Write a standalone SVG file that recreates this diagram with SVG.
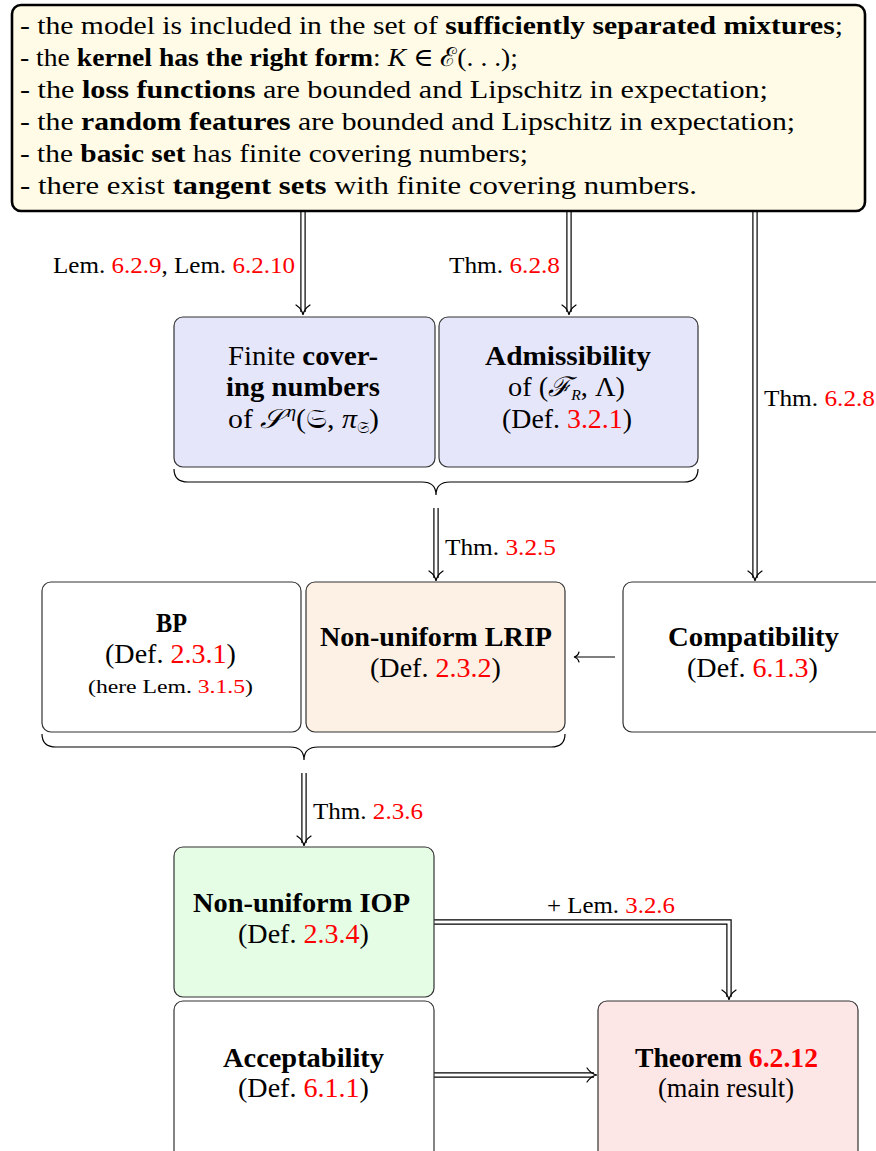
<svg xmlns="http://www.w3.org/2000/svg" width="876" height="1151" viewBox="0 0 876 1151">
<style>
text{font-family:"Liberation Serif","DejaVu Serif",serif;fill:#000}
.t{font-size:26px}
.n{font-size:27px}
.l{font-size:24px}
.s{font-size:19px}
.b{font-weight:bold}
.r{fill:#ff0000}
.i{font-style:italic}
.box{stroke:#333;stroke-width:1.2}
.dbl{fill:none;stroke:#000;stroke-width:5.4}
.dbi{fill:none;stroke:#fff;stroke-width:3}
.head{fill:none;stroke:#000;stroke-width:1.2;stroke-linecap:round}
.brace{fill:none;stroke:#000;stroke-width:1.2}
</style>
<rect width="876" height="1151" fill="#fff"/>

<g id="connectors">
  <path class="dbl" d="M303,212 V312"/><path class="dbi" d="M303,212 V312"/>
  <path class="head" d="M296,305 Q302,309 303,315 Q304,309 310,305"/>
  <path class="dbl" d="M569,212 V312"/><path class="dbi" d="M569,212 V312"/>
  <path class="head" d="M562,305 Q568,309 569,315 Q570,309 576,305"/>
  <path class="dbl" d="M755,212 V578"/><path class="dbi" d="M755,212 V578"/>
  <path class="head" d="M748,571 Q754,575 755,581 Q756,575 762,571"/>
  <path class="dbl" d="M436,508 V578"/><path class="dbi" d="M436,508 V578"/>
  <path class="head" d="M429,571 Q435,575 436,581 Q437,575 443,571"/>
  <path fill="none" stroke="#000" stroke-width="1.2" d="M615,657 H575"/>
  <path class="head" d="M579,652 Q578,656 574,657 Q578,658 579,662"/>
  <path class="dbl" d="M304,773 V843"/><path class="dbi" d="M304,773 V843"/>
  <path class="head" d="M297,836 Q303,840 304,846 Q305,840 311,836"/>
  <path class="dbl" d="M434,922 H729 V997" stroke-linejoin="miter"/><path class="dbi" d="M434,922 H729 V997" stroke-linejoin="miter"/>
  <path class="head" d="M722,990 Q728,994 729,1000 Q730,994 736,990"/>
  <path class="dbl" d="M434,1075 H594"/><path class="dbi" d="M434,1075 H594"/>
  <path class="head" d="M587,1068 Q591,1074 597,1075 Q591,1076 587,1082"/>
  <path class="brace" d="M174,469 Q174,482 188,482 L422,482 Q436,482 436,495 Q436,482 450,482 L684,482 Q698,482 698,469"/>
  <path class="brace" d="M42,734 Q42,747 56,747 L290,747 Q304,747 304,760 Q304,747 318,747 L551,747 Q565,747 565,734"/>
  <text class="l" x="53" y="273" textLength="242" lengthAdjust="spacingAndGlyphs">Lem. <tspan class="r">6.2.9</tspan>, Lem. <tspan class="r">6.2.10</tspan></text>
  <text class="l" x="449" y="273" textLength="111" lengthAdjust="spacingAndGlyphs">Thm. <tspan class="r">6.2.8</tspan></text>
  <text class="l" x="764" y="406" textLength="111" lengthAdjust="spacingAndGlyphs">Thm. <tspan class="r">6.2.8</tspan></text>
  <text class="l" x="445" y="555" textLength="111" lengthAdjust="spacingAndGlyphs">Thm. <tspan class="r">3.2.5</tspan></text>
  <text class="l" x="313" y="819" textLength="110" lengthAdjust="spacingAndGlyphs">Thm. <tspan class="r">2.3.6</tspan></text>
  <text class="l" x="547" y="913" textLength="128" lengthAdjust="spacingAndGlyphs">+ Lem. <tspan class="r">3.2.6</tspan></text>
</g>

<g id="assumptions">
  <rect x="12" y="5" width="853" height="206" rx="9" fill="#fffbe6" stroke="#000" stroke-width="2.6"/>
  <text class="t" x="20" y="34" textLength="823" lengthAdjust="spacingAndGlyphs">- the model is included in the set of <tspan class="b">sufficiently separated mixtures</tspan>;</text>
  <text class="t" x="20" y="66" textLength="498" lengthAdjust="spacingAndGlyphs">- the <tspan class="b">kernel has the right form</tspan>:  <tspan class="i">K</tspan> ∈ ℰ(. . .);</text>
  <text class="t" x="20" y="98" textLength="748" lengthAdjust="spacingAndGlyphs">- the <tspan class="b">loss functions</tspan> are bounded and Lipschitz in expectation;</text>
  <text class="t" x="20" y="130" textLength="775" lengthAdjust="spacingAndGlyphs">- the <tspan class="b">random features</tspan> are bounded and Lipschitz in expectation;</text>
  <text class="t" x="20" y="162" textLength="508" lengthAdjust="spacingAndGlyphs">- the <tspan class="b">basic set</tspan> has finite covering numbers;</text>
  <text class="t" x="20" y="194" textLength="677" lengthAdjust="spacingAndGlyphs">- there exist <tspan class="b">tangent sets</tspan> with finite covering numbers.</text>
</g>

<g id="covering">
  <rect class="box" x="174" y="317" width="261" height="150" rx="9" fill="#e6e6fb"/>
  <text class="n" x="228" y="365" textLength="150" lengthAdjust="spacingAndGlyphs">Finite <tspan class="b">cover-</tspan></text>
  <text class="n b" x="226" y="396" textLength="154" lengthAdjust="spacingAndGlyphs">ing numbers</text>
  <text class="n" x="228" y="428" textLength="151" lengthAdjust="spacingAndGlyphs">of <tspan class="i">𝒮</tspan><tspan class="i" font-size="17" dx="3" dy="-11">η</tspan><tspan dy="11">(𝔖, </tspan><tspan class="i">π</tspan><tspan font-size="16" dy="5">𝔖</tspan><tspan dy="-5">)</tspan></text>
</g>

<g id="admissibility">
  <rect class="box" x="439" y="317" width="259" height="150" rx="9" fill="#e6e6fb"/>
  <text class="n b" x="485" y="365" textLength="166" lengthAdjust="spacingAndGlyphs">Admissibility</text>
  <text class="n" x="508" y="396" textLength="117" lengthAdjust="spacingAndGlyphs">of (<tspan class="i">ℱ</tspan><tspan class="i" font-size="15" dy="4">R</tspan><tspan dy="-4">, Λ)</tspan></text>
  <text class="n" x="502" y="428" textLength="130" lengthAdjust="spacingAndGlyphs">(Def.  <tspan class="r">3.2.1</tspan>)</text>
</g>

<g id="bp">
  <rect class="box" x="42" y="582" width="259" height="150" rx="9" fill="#fff"/>
  <text class="n b" x="156" y="632" textLength="31" lengthAdjust="spacingAndGlyphs">BP</text>
  <text class="n" x="105" y="663" textLength="131" lengthAdjust="spacingAndGlyphs">(Def.  <tspan class="r">2.3.1</tspan>)</text>
  <text class="s" x="88" y="693" textLength="165" lengthAdjust="spacingAndGlyphs">(here Lem.  <tspan class="r">3.1.5</tspan>)</text>
</g>

<g id="lrip">
  <rect class="box" x="306" y="582" width="259" height="150" rx="9" fill="#fdf0e4"/>
  <text class="n b" x="320" y="646" textLength="232" lengthAdjust="spacingAndGlyphs">Non-uniform LRIP</text>
  <text class="n" x="370" y="677" textLength="131" lengthAdjust="spacingAndGlyphs">(Def.  <tspan class="r">2.3.2</tspan>)</text>
</g>

<g id="compatibility">
  <rect class="box" x="623" y="582" width="270" height="150" rx="9" fill="#fff"/>
  <text class="n b" x="668" y="646" textLength="171" lengthAdjust="spacingAndGlyphs">Compatibility</text>
  <text class="n" x="687" y="677" textLength="131" lengthAdjust="spacingAndGlyphs">(Def.  <tspan class="r">6.1.3</tspan>)</text>
</g>

<g id="iop">
  <rect class="box" x="174" y="847" width="260" height="150" rx="9" fill="#e5fce5"/>
  <text class="n b" x="193" y="912" textLength="217" lengthAdjust="spacingAndGlyphs">Non-uniform IOP</text>
  <text class="n" x="238" y="943" textLength="131" lengthAdjust="spacingAndGlyphs">(Def.  <tspan class="r">2.3.4</tspan>)</text>
</g>

<g id="acceptability">
  <rect class="box" x="174" y="1001" width="260" height="170" rx="9" fill="#fff"/>
  <text class="n b" x="223" y="1067" textLength="161" lengthAdjust="spacingAndGlyphs">Acceptability</text>
  <text class="n" x="238" y="1097" textLength="131" lengthAdjust="spacingAndGlyphs">(Def.  <tspan class="r">6.1.1</tspan>)</text>
</g>

<g id="theorem">
  <rect class="box" x="598" y="1001" width="260" height="170" rx="9" fill="#fde6e6"/>
  <text class="n b" x="635" y="1067" textLength="183" lengthAdjust="spacingAndGlyphs">Theorem <tspan class="r">6.2.12</tspan></text>
  <text class="n" x="658" y="1097" textLength="136" lengthAdjust="spacingAndGlyphs">(main result)</text>
</g>
</svg>
